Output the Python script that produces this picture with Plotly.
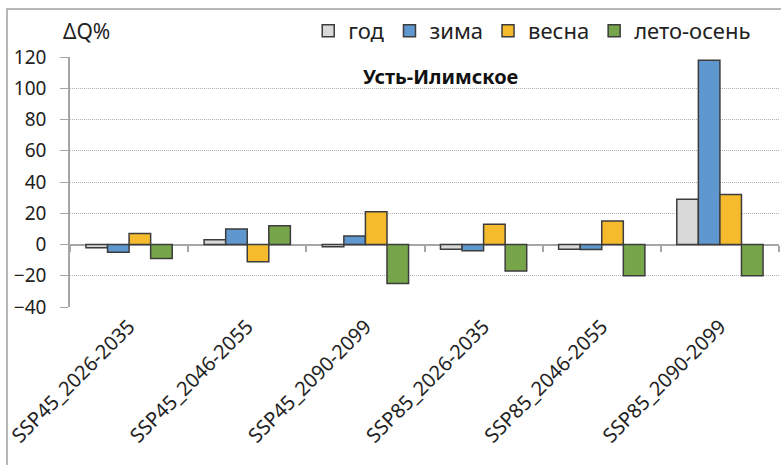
import plotly.graph_objects as go

categories = ["SSP45_2026-2035", "SSP45_2046-2055", "SSP45_2090-2099",
              "SSP85_2026-2035", "SSP85_2046-2055", "SSP85_2090-2099"]
series_names = ["год", "зима", "весна", "лето-осень"]
god = [-2, 3, -1.5, -3, -3, 29]
zima = [-5, 10, 5.5, -4, -3.2, 118]
vesna = [7, -11, 21, 13, 15, 32]
leto_osen = [-9, 12, -25, -17, -20, -20]
y_ticks = [-40, -20, 0, 20, 40, 60, 80, 100, 120]

colors = ["#D9D9D9", "#5F97CF", "#F5BB2C", "#77A64A"]
FONT = "Noto Sans"

fig = go.Figure()
for name, vals, col in zip(series_names, [god, zima, vesna, leto_osen], colors):
    fig.add_trace(go.Bar(
        x=categories, y=vals, name=name,
        marker=dict(color=col, line=dict(color="#3C3C3C", width=1.5)),
    ))

# invisible helper trace for the axis crossing at zero (tick marks on the zero line)
fig.add_trace(go.Scatter(x=categories, y=[None] * len(categories), xaxis="x2",
                         showlegend=False, hoverinfo="skip", mode="markers"))

fig.update_layout(
    width=781, height=465,
    margin=dict(l=70, r=2, t=57, b=158, autoexpand=False),
    paper_bgcolor="white", plot_bgcolor="white",
    barmode="group", bargap=0.27, bargroupgap=0,
    font=dict(family=FONT, color="#222222"),
    xaxis=dict(
        type="category", showline=False, showgrid=False, ticks="",
        tickangle=-45, tickfont=dict(size=20, color="#222222"),
        ticklabelstandoff=3,
    ),
    xaxis2=dict(
        type="category", overlaying="x", matches="x", anchor="free", position=0.25,
        showline=False, ticks="outside", tickson="boundaries", ticklen=6,
        tickcolor="#A6A6A6", tickwidth=1.5, showticklabels=False, showgrid=False,
    ),
    yaxis=dict(
        range=[-40, 120], tickvals=y_ticks, showline=True, linecolor="#A6A6A6",
        linewidth=1.5, ticks="outside", ticklen=8, tickcolor="#A6A6A6",
        ticklabelstandoff=10,
        showgrid=True, gridcolor="#B0B0B0", griddash="1px,1px", gridwidth=1,
        zeroline=True, zerolinecolor="#A6A6A6", zerolinewidth=2,
        tickfont=dict(size=19, color="#222222"),
    ),
    legend=dict(
        orientation="h", x=0.336, xanchor="left", y=1.104, yanchor="middle",
        font=dict(size=22, color="#222222"), itemwidth=30, traceorder="normal",
        bgcolor="rgba(0,0,0,0)",
    ),
    annotations=[
        dict(text="ΔQ%", xref="paper", yref="paper", x=0.0226, y=1.104,
             showarrow=False, font=dict(size=21, color="#222222"),
             xanchor="center", yanchor="middle"),
        dict(text="<b>Усть-Илимское</b>", xref="paper", yref="paper", x=0.522, y=0.92,
             showarrow=False, font=dict(size=20, color="#111111"),
             xanchor="center", yanchor="middle"),
    ],
    shapes=[
        dict(type="rect", xref="paper", yref="paper",
             x0=(7 - 70) / 709, x1=1.2, y0=-1.0, y1=(307 - 9) / 250,
             line=dict(color="#A0A0A0", width=1.5), layer="below"),
    ],
)

fig.write_html("out.html", config={"displayModeBar": False},
               post_script="document.body.style.margin='0px';")
